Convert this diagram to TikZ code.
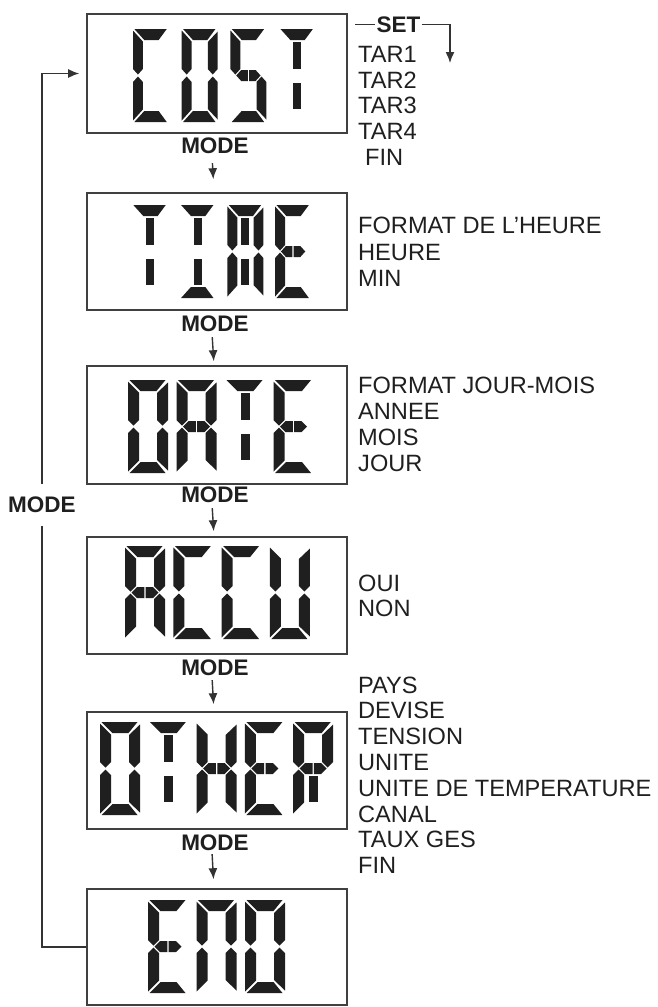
\documentclass[tikz,border=0pt]{standalone}
\usepackage{fontspec}
\setmainfont{Liberation Sans}
\usetikzlibrary{arrows.meta}
% LCD segment outlines in a local 40 x 93 cell (y downward)
\def\lcdsega{(1.5,0) -- (37.5,0) -- (28.5,11) -- (12.5,11) -- cycle}
\def\lcdsegb{(40,2.5) -- (29,13) -- (29,40) -- (34.5,45.5) -- (40,40) -- cycle}
\def\lcdsegc{(40,90.5) -- (29,80) -- (29,53) -- (34.5,47.5) -- (40,53) -- cycle}
\def\lcdsegd{(1.5,93) -- (37.5,93) -- (28.5,82) -- (12.5,82) -- cycle}
\def\lcdsege{(0,91.5) -- (11,80.5) -- (11,53) -- (5.5,47.5) -- (0,53) -- cycle}
\def\lcdsegf{(0,1.5) -- (11,12.5) -- (11,40) -- (5.5,45.5) -- (0,40) -- cycle}
\def\lcdseggone{(6.5,46.5) -- (12,41) -- (19.3,41) -- (19.3,52) -- (12,52) -- cycle}
\def\lcdseggtwo{(20.7,41) -- (28,41) -- (33.5,46.5) -- (28,52) -- (20.7,52) -- cycle}
\def\lcdsegi{(15.5,13) -- (24.5,13) -- (24.5,39.5) -- (15.5,39.5) -- cycle}
\def\lcdsegl{(15.5,53.5) -- (24.5,53.5) -- (24.5,80) -- (15.5,80) -- cycle}
\def\lcdfill#1{\fill[lcdseg] #1;}
\newcommand\lcdchar[4]{\begin{scope}[shift={(#2,#3)},xscale=#1]
  \foreach \s in {#4}{\expandafter\lcdfill\csname lcdseg\s\endcsname}
\end{scope}}
\begin{document}
\begin{tikzpicture}[x=1pt,y=-1pt,
  lcdbox/.style={draw=black!75,line width=1.6pt,minimum width=260pt,inner sep=0pt},
  lcdseg/.style={fill=black!88},
  modelbl/.style={font=\fontsize{22.5}{24}\bfseries,text=black!88,inner sep=1pt},
  item/.style={font=\fontsize{23.6}{26}\selectfont,text=black!88,anchor=west,inner sep=0pt,text height=17pt,text depth=0pt},
  conn/.style={draw=black!80,line width=1.4pt},
  arr/.style={conn,-{Latex[length=11pt,width=9pt]}}]
\useasboundingbox (0,0) rectangle (657,1007);

% boxes
\node[lcdbox,minimum height=119pt] (costbox) at (217,73.5) {};
\node[lcdbox,minimum height=117pt] (timebox) at (217,251.5) {};
\node[lcdbox,minimum height=118pt] (datebox) at (217,425) {};
\node[lcdbox,minimum height=117pt] (accubox) at (217,595.5) {};
\node[lcdbox,minimum height=117pt] (otherbox) at (217,770.5) {};
\node[lcdbox,minimum height=116pt] (endbox) at (217,947) {};

% LCD characters
\lcdchar{.9}{133}{29}{a,f,e,d}
\lcdchar{.9}{181.7}{29}{a,b,c,d,e,f}
\lcdchar{.9}{230.4}{29}{a,f,gone,gtwo,c,d}
\lcdchar{.9}{279.1}{29}{a,i,l}

\lcdchar{.9}{132}{205}{a,i,l}
\lcdchar{.9}{179.7}{205}{a,i,l,d}
\lcdchar{.9}{227.4}{205}{a,b,c,e,f,i,l}
\lcdchar{.9}{275.1}{205}{a,f,gone,gtwo,e,d}

\lcdchar{1}{128}{380}{a,b,c,d,e,f}
\lcdchar{1}{176.5}{380}{a,b,c,e,f,gone,gtwo}
\lcdchar{1}{225}{380}{a,i,l}
\lcdchar{1}{273.5}{380}{a,f,gone,gtwo,e,d}

\lcdchar{1}{125}{546}{a,b,c,e,f,gone,gtwo}
\lcdchar{1}{173.3}{546}{a,f,e,d}
\lcdchar{1}{221.6}{546}{a,f,e,d}
\lcdchar{1}{269.9}{546}{b,c,d,e,f}

\lcdchar{1}{100}{722}{a,b,c,d,e,f}
\lcdchar{1}{148.3}{722}{a,i,l}
\lcdchar{1}{196.6}{722}{b,c,e,f,gone,gtwo}
\lcdchar{1}{244.9}{722}{a,f,gone,gtwo,e,d}
\lcdchar{1}{293.2}{722}{a,b,f,gone,gtwo,e,l}

\lcdchar{1}{148}{900}{a,f,gone,gtwo,e,d}
\lcdchar{1}{196.5}{900}{a,b,c,e,f}
\lcdchar{1}{245}{900}{a,b,c,d,e,f}

% MODE labels and arrows
\node[modelbl] (m1) at (215,146) {MODE};
\node[modelbl] (m2) at (215,324) {MODE};
\node[modelbl] (m3) at (215,495) {MODE};
\node[modelbl] (m4) at (215,668) {MODE};
\node[modelbl] (m5) at (215,843) {MODE};
\draw[arr,shorten <=8pt,shorten >=13pt] ([xshift=-3pt]m1.south) -- ([xshift=-3pt]timebox.north);
\draw[arr,shorten <=4pt,shorten >=4pt] ([xshift=-3pt]m2.south) -- ([xshift=-3pt]datebox.north);
\draw[arr,shorten <=4pt,shorten >=5pt] ([xshift=-3pt]m3.south) -- ([xshift=-3pt]accubox.north);
\draw[arr,shorten <=3pt,shorten >=7pt] ([xshift=-3pt]m4.south) -- ([xshift=-3pt]otherbox.north);
\draw[arr,shorten <=2pt,shorten >=9pt] ([xshift=-3pt]m5.south) -- ([xshift=-3pt]endbox.north);

% return loop
\node[modelbl,inner ysep=13pt] (mloop) at (42,505) {MODE};
\draw[conn] (endbox.west) -| (mloop.south);
\draw[arr,shorten >=7pt] (mloop.north) |- (costbox.west);

% SET
\node[modelbl] (setlbl) at (398.5,24.5) {SET};
\coordinate (setl) at (355,24.5);
\coordinate (setd) at (450,63);
\draw[conn] (setl) -- (setlbl.west);
\draw[arr] (setlbl.east) -| (setd);

% option lists
\foreach \t [count=\i] in {TAR1,TAR2,TAR3,TAR4}
  \node[item] (cost\i) at (358,{54+25.7*(\i-1)}) {\t};
\node[item] (cost5) at (365,157) {FIN};
\foreach \t [count=\i] in {FORMAT DE L’HEURE,HEURE,MIN}
  \node[item] (time\i) at (358,{225+26.5*(\i-1)}) {\t};
\foreach \t [count=\i] in {FORMAT JOUR-MOIS,ANNEE,MOIS,JOUR}
  \node[item] (date\i) at (358,{385+26*(\i-1)}) {\t};
\foreach \t [count=\i] in {OUI,NON}
  \node[item] (accu\i) at (358,{582.5+25.5*(\i-1)}) {\t};
\foreach \t [count=\i] in {PAYS,DEVISE,TENSION,UNITE,UNITE DE TEMPERATURE,CANAL,TAUX GES,FIN}
  \node[item] (other\i) at (358,{684.5+25.8*(\i-1)}) {\t};
\end{tikzpicture}
\end{document}
